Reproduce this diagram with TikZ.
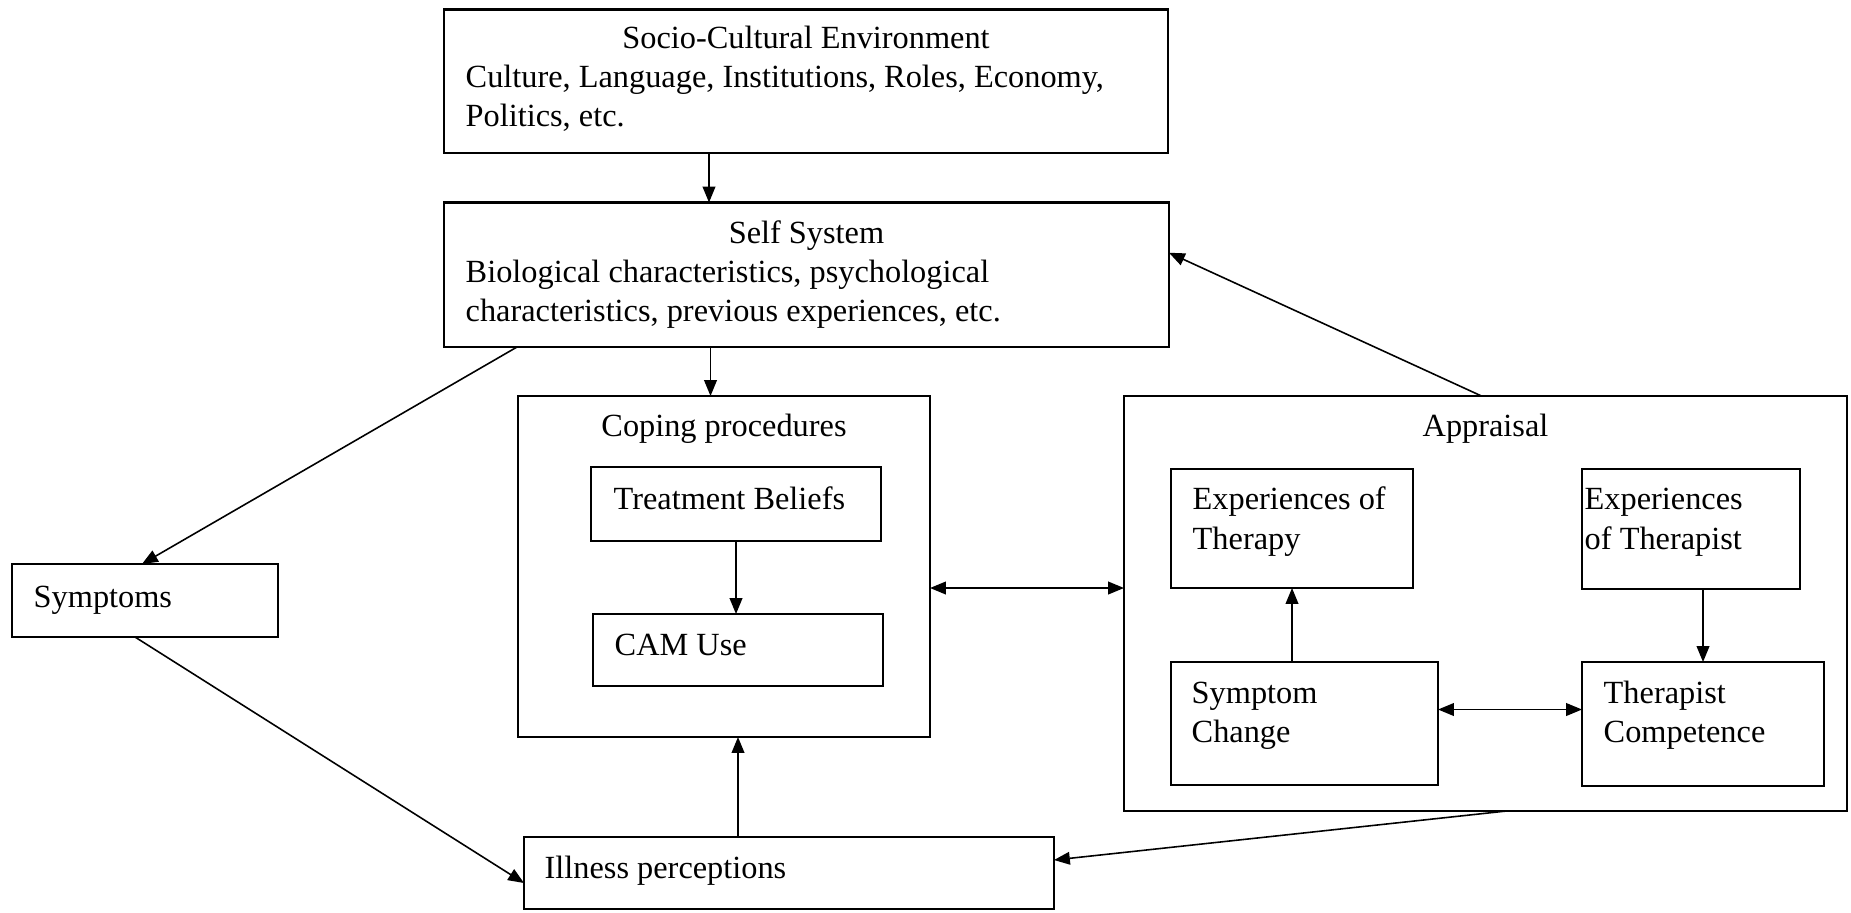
\documentclass[tikz,border=0pt]{standalone}
\usepackage{fontspec}
\setmainfont{Liberation Serif}
\usepackage{tikz}
\usetikzlibrary{arrows.meta, positioning}

\begin{document}
\begin{tikzpicture}[
    box/.style={draw, line width=0.6pt, inner sep=0pt, outer sep=0pt, anchor=north west},
    txt/.style={inner sep=0pt, align=left, font=\fontsize{9.2}{11.1}\selectfont},
    ttl/.style={inner sep=0pt, font=\fontsize{9.2}{11.1}\selectfont},
    arr/.style={line width=0.45pt, -{Triangle[length=4.5pt, width=3.6pt]}},
    dbl/.style={line width=0.45pt, {Triangle[length=4.5pt, width=3.6pt]}-{Triangle[length=4.5pt, width=3.6pt]}}
]
\useasboundingbox (0,0) rectangle (18.51,-9.12);

\node[box, minimum width=7.24cm, minimum height=1.435cm] (socio) at (4.44,-0.095) {};
\node[box, minimum width=7.25cm, minimum height=1.445cm, below=0.495cm of socio.south west, anchor=north west] (self) {};
\node[box, minimum width=4.12cm, minimum height=3.41cm, below right=0.49cm and 0.74cm of self.south west] (coping) {};
\node[box, minimum width=2.90cm, minimum height=0.74cm, below right=0.71cm and 0.73cm of coping.north west] (tb) {};
\node[box, minimum width=2.90cm, minimum height=0.72cm, below=0.73cm of tb.south west, anchor=north west, xshift=0.02cm] (cam) {};
\node[box, minimum width=2.66cm, minimum height=0.73cm] (symptoms) at (0.12,-5.64) {};
\node[box, minimum width=5.30cm, minimum height=0.72cm, below right=1.00cm and 0.06cm of coping.south west] (illness) {};
\node[box, minimum width=7.23cm, minimum height=4.15cm, right=1.94cm of coping.north east, anchor=north west] (appraisal) {};
\node[box, minimum width=2.42cm, minimum height=1.19cm, below right=0.73cm and 0.47cm of appraisal.north west] (expther) {};
\node[box, minimum width=2.18cm, minimum height=1.20cm, below right=0.73cm and 4.58cm of appraisal.north west] (exptpist) {};
\node[box, minimum width=2.67cm, minimum height=1.23cm, below=0.74cm of expther.south west, anchor=north west] (symch) {};
\node[box, minimum width=2.42cm, minimum height=1.24cm, below=0.73cm of exptpist.south west, anchor=north west] (thcomp) {};

\node[ttl, below=0.39cm of socio.north, anchor=base] (socioTtl) {Socio-Cultural Environment};
\node[txt, below right=1.17cm and 0.21cm of socio.north west, anchor=base west] (socioTxt) {Culture, Language, Institutions, Roles, Economy,\\Politics, etc.};
\node[ttl, below=0.41cm of self.north, anchor=base] (selfTtl) {Self System};
\node[txt, below right=1.19cm and 0.21cm of self.north west, anchor=base west] (selfTxt) {Biological characteristics, psychological\\characteristics, previous experiences, etc.};
\node[ttl, below=0.40cm of coping.north, anchor=base] (copingTtl) {Coping procedures};
\node[ttl, below=0.40cm of appraisal.north, anchor=base] (appraisalTtl) {Appraisal};
\node[txt, below right=0.42cm and 0.22cm of tb.north west, anchor=base west] (tbTxt) {Treatment Beliefs};
\node[txt, below right=0.41cm and 0.21cm of cam.north west, anchor=base west] (camTxt) {CAM Use};
\node[txt, below right=0.43cm and 0.21cm of symptoms.north west, anchor=base west] (symptomsTxt) {Symptoms};
\node[txt, below right=0.41cm and 0.20cm of illness.north west, anchor=base west] (illnessTxt) {Illness perceptions};
\node[txt, below right=0.80cm and 0.21cm of expther.north west, anchor=base west] (exptherTxt) {Experiences of\\Therapy};
\node[txt, below right=0.80cm and 0.02cm of exptpist.north west, anchor=base west] (exptpistTxt) {Experiences\\of Therapist};
\node[txt, below right=0.80cm and 0.20cm of symch.north west, anchor=base west] (symchTxt) {Symptom\\Change};
\node[txt, below right=0.80cm and 0.21cm of thcomp.north west, anchor=base west] (thcompTxt) {Therapist\\Competence};

\draw[arr] ([xshift=-0.97cm]socio.south) -- ([xshift=-0.97cm]socio.south |- self.north);
\draw[arr] ([xshift=-0.96cm]self.south) -- ([xshift=-0.96cm]self.south |- coping.north);
\draw[arr] (tb.south) -- (tb.south |- cam.north);
\draw[arr] (cam.south |- illness.north) -- (cam.south |- coping.south);
\draw[dbl] (coping.east |- expther.south) -- (appraisal.west |- expther.south);
\draw[arr] (expther.south |- symch.north) -- (expther.south);
\draw[arr] (thcomp.north |- exptpist.south) -- (thcomp.north);
\draw[dbl] ([yshift=0.14cm]symch.east) -- ([yshift=0.14cm]symch.east -| thcomp.west);
\draw[arr] ([xshift=-0.04cm]appraisal.north) -- ([yshift=0.22cm]self.east);
\draw[arr] ([xshift=0.73cm]self.south west) -- ([xshift=-0.03cm]symptoms.north);
\draw[arr] ([xshift=-0.1cm]symptoms.south) -- ([yshift=-0.1cm]illness.west);
\draw[arr] ([xshift=0.21cm]appraisal.south) -- ([yshift=0.13cm]illness.east);
\end{tikzpicture}
\end{document}
